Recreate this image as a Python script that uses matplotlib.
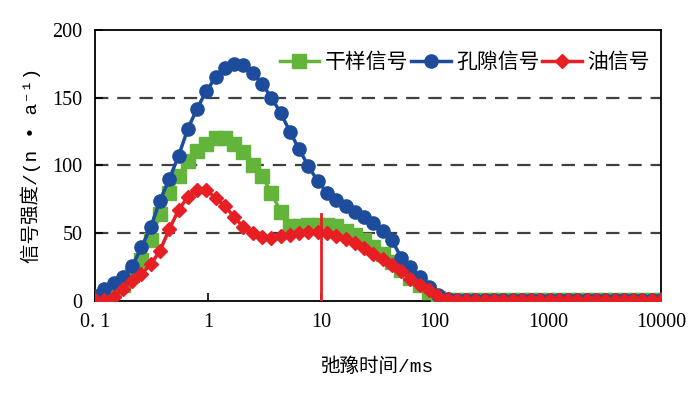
import matplotlib
matplotlib.use("Agg")
import matplotlib.pyplot as plt

# T2 grid (ms), log spaced 0.1 .. 10000
t2 = [0.1, 0.1208, 0.1459, 0.1762, 0.2128, 0.257, 0.3104, 0.3749, 0.4528, 0.5469,
      0.6605, 0.7977, 0.963, 1.163, 1.405, 1.697, 2.049, 2.475, 2.989, 3.61,
      4.36, 5.266, 6.36, 7.681, 9.273, 11.2, 13.53, 16.34, 19.73, 23.83,
      28.78, 34.75, 41.98, 50.7, 61.23, 73.95, 89.31, 107.8, 130.2, 157.3,
      190.0, 229.5, 277.1, 334.7, 404.2, 488.2, 589.6, 712.1, 860.0, 1038,
      1254, 1515, 1829, 2209, 2668, 3223, 3892, 4700, 5677, 6856,
      8280, 10000]

flat = [1] * 23

dry = [1, 4, 8, 12, 19, 30, 45, 64, 80, 92,
       103, 111, 116, 120, 120, 116, 110, 100, 92, 80,
       66, 55, 55, 56, 56, 56, 55, 52, 49, 45,
       40, 35, 29, 23, 17, 12, 7, 2.5, 1] + flat

pore = [4, 9, 13, 18, 25.5, 39.5, 54.5, 74, 90, 107,
        127, 142, 155, 165, 172, 175, 174, 168.5, 160.5, 150,
        139, 125, 112, 99.5, 88.5, 80, 74.5, 70, 66, 62,
        57.5, 52, 45, 32, 25, 18, 10, 4.5, 1.5] + flat

oil = [1, 0.5, 3, 9, 15, 20, 27, 37, 53, 67,
       77, 82, 82, 76, 70, 62, 54.5, 50, 47, 46.5,
       48, 49, 50, 51, 51, 50, 48, 45.5, 43, 39,
       35, 31, 26.5, 22, 16.5, 12, 8, 3.5, 1.5] + flat

labels = ["干样信号", "孔隙信号", "油信号"]
xticks = [0.1, 1, 10, 100, 1000, 10000]
xticklabels = ["0. 1", "1", "10", "100", "1000", "10000"]
yticks = [0, 50, 100, 150, 200]
grid_levels = [50, 100, 150]
cut_t2 = 10
cut_top = 64

serif = ["Liberation Serif", "DejaVu Serif", "Noto Sans CJK SC"]
mono = ["Liberation Mono", "DejaVu Sans Mono", "Noto Sans CJK SC"]
plt.rcParams["font.family"] = serif

fig = plt.figure(figsize=(7, 3.93), dpi=100)
ax = fig.add_axes([0.1357, 0.2341, 0.8086, 0.6896])

for g in grid_levels:
    ax.axhline(g, color="#404040", lw=1.6, ls=(0, (6, 4)), zorder=1)

ax.plot(t2, dry, color="#62B53A", marker="s", ms=9.5, lw=2.5, label=labels[0], zorder=3)
ax.plot(t2, pore, color="#1E4C9C", marker="o", ms=9.5, lw=2.5, label=labels[1], zorder=4)
ax.plot(t2, oil, color="#E81E25", marker="D", ms=7.5, lw=2.5, label=labels[2], zorder=5)
ax.plot([cut_t2, cut_t2], [0, cut_top], color="#E81E25", lw=2, zorder=6)

ax.set_xscale("log")
ax.set_xlim(0.1, 10000)
ax.set_ylim(0, 200)
ax.set_xticks(xticks)
ax.set_xticklabels(xticklabels)
ax.minorticks_off()
ax.set_yticks(yticks)
ax.tick_params(axis="both", direction="in", length=6, width=1.2, labelsize=14.5, pad=9)
for s in ax.spines.values():
    s.set_linewidth(1.3)
    s.set_color("black")

ax.set_xlabel("弛豫时间/ms", fontsize=14, labelpad=18, family=mono)
ax.set_ylabel("信号强度/(n • a⁻¹)", fontsize=14, labelpad=8, family=mono)

ax.legend(loc="center right", bbox_to_anchor=(0.995, 0.882), ncol=3, frameon=False,
          prop={"family": mono, "size": 15}, handlelength=1.9, handletextpad=0.25,
          columnspacing=0.15, borderaxespad=0.0)

fig.savefig("out.png", dpi=100)
